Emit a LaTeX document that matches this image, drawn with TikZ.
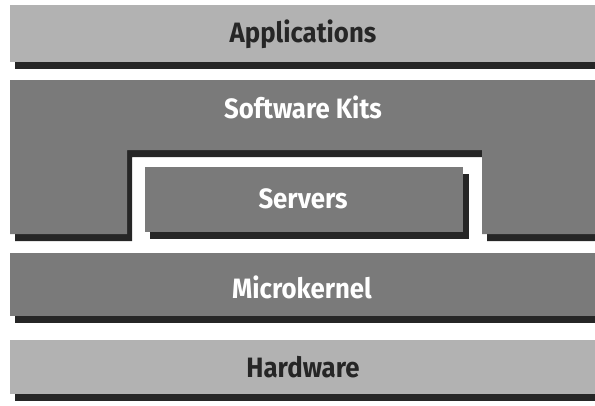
\documentclass[tikz,border=0pt]{standalone}
\usepackage{fontspec}
\usepackage{graphicx}
\setmainfont{Fira Sans}

\newcommand{\layertext}[1]{\scalebox{0.92}[1]{\bfseries\fontsize{28}{28}\selectfont #1}}

\tikzstyle{lightlayer} = [fill=black!30]
\tikzstyle{darklayer} = [fill=black!52]
\tikzstyle{shade} = [fill=black!85]
\tikzstyle{darklabel} = [anchor=base,inner sep=0pt,text=black!85]
\tikzstyle{lightlabel} = [anchor=base,inner sep=0pt,text=white]

\begin{document}
\begin{tikzpicture}[x=1pt,y=-1pt]
		\useasboundingbox (0,0) rectangle (595,405);
		% shadows
		\fill[shade] (15,12) rectangle (600,69);
		\fill[shade] (15,87) -- (605,87) -- (605,241) -- (487,241) -- (487,157) -- (132,157) -- (132,241) -- (15,241) -- cycle;
		\fill[shade] (150,174) rectangle (469,239);
		\fill[shade] (15,260) rectangle (600,323);
		\fill[shade] (15,347) rectangle (600,401);
		% layers
		\fill[lightlayer] (10,5) rectangle (600,62);
		\fill[darklayer] (10,80) -- (600,80) -- (600,234) -- (482,234) -- (482,150) -- (127,150) -- (127,234) -- (10,234) -- cycle;
		\fill[darklayer] (145,167) rectangle (463,232);
		\fill[darklayer] (10,253) rectangle (600,316);
		\fill[lightlayer] (10,340) rectangle (600,394);
		
		\node[darklabel] (apps) at (303,42) {\layertext{Applications}};
		\node[lightlabel] (kits) at (303,118) {\layertext{Software Kits}};
		\node[lightlabel] (servers) at (303,208) {\layertext{Servers}};
		\node[lightlabel] (kernel) at (302,298) {\layertext{Microkernel}};
		\node[darklabel] (hw) at (303,377) {\layertext{Hardware}};
		\end{tikzpicture}
\end{document}
